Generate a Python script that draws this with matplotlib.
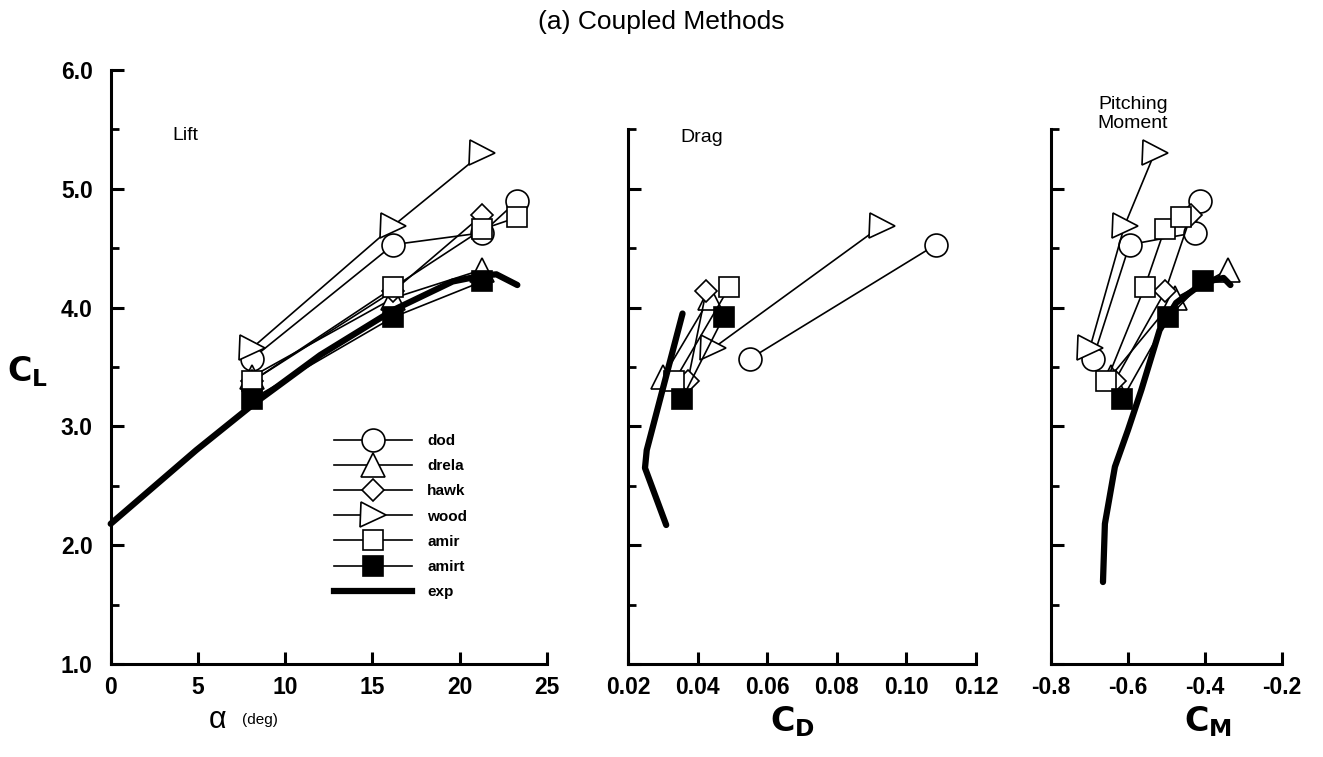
import numpy as np
import matplotlib
matplotlib.use("Agg")
import matplotlib.pyplot as plt
from matplotlib.lines import Line2D

plt.rcParams['font.family'] = ['Liberation Sans', 'DejaVu Sans']

nan = np.nan

# angle of attack (deg) for the computed cases
alpha3 = [8.1, 16.2, 21.3]
alpha4 = [8.1, 16.2, 21.3, 23.3]

# computed results per method: lift, drag, pitching moment
dod_cl = [3.57, 4.53, 4.63, 4.90]
dod_cd = [0.0550, 0.1085, nan, nan]
dod_cm = [-0.691, -0.596, -0.427, -0.414]

drela_cl = [3.42, 4.08, 4.32]
drela_cd = [0.0301, 0.0435, nan]
drela_cm = [-0.645, -0.477, -0.339]

hawk_cl = [3.38, 4.14, 4.78]
hawk_cd = [0.0371, 0.0424, nan]
hawk_cm = [-0.635, -0.503, -0.436]

wood_cl = [3.66, 4.69, 5.30]
wood_cd = [0.0445, 0.0929, nan]
wood_cm = [-0.699, -0.609, -0.531]

amir_cl = [3.38, 4.17, 4.66, 4.76]
amir_cd = [0.0332, 0.0490, nan, nan]
amir_cm = [-0.656, -0.557, -0.505, -0.462]

amirt_cl = [3.23, 3.92, 4.22]
amirt_cd = [0.0354, 0.0474, nan]
amirt_cm = [-0.615, -0.495, -0.404]

# experiment
exp_alpha = [0.0, 4.9, 8.2, 12.0, 16.2, 19.6, 21.3, 22.1, 23.3]
exp_cl = [2.18, 2.80, 3.19, 3.60, 3.98, 4.22, 4.27, 4.28, 4.19]
exp_cd = [0.0309, 0.0248, 0.0253, 0.0356]
exp_cl_d = [2.17, 2.65, 2.80, 3.95]
exp_cm = [-0.665, -0.660, -0.634, -0.600, -0.565, -0.518, -0.475, -0.404, -0.352, -0.334]
exp_cl_m = [1.69, 2.18, 2.66, 2.97, 3.31, 3.81, 4.04, 4.21, 4.25, 4.19]

methods = [
    ("dod", alpha4, dod_cl, dod_cd, dod_cm, dict(marker='o', ms=16.5, mfc='white')),
    ("drela", alpha3, drela_cl, drela_cd, drela_cm, dict(marker='^', ms=17, mfc='white')),
    ("hawk", alpha3, hawk_cl, hawk_cd, hawk_cm, dict(marker='D', ms=11.5, mfc='white')),
    ("wood", alpha3, wood_cl, wood_cd, wood_cm, dict(marker='>', ms=18, mfc='white')),
    ("amir", alpha4, amir_cl, amir_cd, amir_cm, dict(marker='s', ms=14.5, mfc='white')),
    ("amirt", alpha3, amirt_cl, amirt_cd, amirt_cm, dict(marker='s', ms=14.5, mfc='black')),
]

fig = plt.figure(figsize=(13.23, 7.57), dpi=100)
W, H = 1323.0, 757.0

def px_axes(x0, x1, y0, y1):
    # rectangle given in pixels from the top-left corner
    return fig.add_axes([x0 / W, 1 - y1 / H, (x1 - x0) / W, (y1 - y0) / H])

def fx(x):
    return x / W

def fy(y):
    return 1 - y / H

y_bot = 664.0
px_per_cl = 118.8
ax_l = px_axes(110.7, 547.0, 70.0, y_bot)
ax_d = px_axes(628.3, 976.0, y_bot - 4.5 * px_per_cl, y_bot)
ax_m = px_axes(1051.0, 1282.0, y_bot - 4.5 * px_per_cl, y_bot)

line_kw = dict(color='black', lw=1.2, mec='black', mew=1.2)
exp_kw = dict(color='black', lw=4.5, solid_capstyle='round', solid_joinstyle='round')

for name, al, cl, cd, cm, mk in methods:
    ax_l.plot(al, cl, **line_kw, **mk)
    ax_d.plot(cd, cl, **line_kw, **mk)
    ax_m.plot(cm, cl, **line_kw, **mk)

ax_l.plot(exp_alpha, exp_cl, **exp_kw)
ax_d.plot(exp_cd, exp_cl_d, **exp_kw)
ax_m.plot(exp_cm, exp_cl_m, **exp_kw)

tick_font = dict(fontsize=16.5, fontweight='bold')

for ax in (ax_l, ax_d, ax_m):
    for s in ('top', 'right'):
        ax.spines[s].set_visible(False)
    for s in ('left', 'bottom'):
        ax.spines[s].set_linewidth(2.2)
    ax.tick_params(which='major', direction='in', length=9, width=2.2)
    ax.tick_params(which='minor', direction='in', length=5.5, width=2.0)
    ax.tick_params(axis='x', pad=9)
    ax.tick_params(axis='y', pad=13)

ax_l.set_xlim(0, 25)
ax_l.set_ylim(1.0, 6.0)
ax_l.set_xticks([0, 5, 10, 15, 20, 25])
ax_l.set_xticklabels(['0', '5', '10', '15', '20', '25'], **tick_font)
ax_l.set_yticks([1.0, 2.0, 3.0, 4.0, 5.0, 6.0])
ax_l.set_yticks([1.5, 2.5, 3.5, 4.5, 5.5], minor=True)
ax_l.set_yticklabels(['1.0', '2.0', '3.0', '4.0', '5.0', '6.0'], **tick_font)

ax_d.set_xlim(0.02, 0.12)
ax_d.set_ylim(1.0, 5.5)
ax_d.set_xticks([0.02, 0.04, 0.06, 0.08, 0.10, 0.12])
ax_d.set_xticklabels(['0.02', '0.04', '0.06', '0.08', '0.10', '0.12'], **tick_font)
ax_d.set_yticks([1.0, 2.0, 3.0, 4.0, 5.0])
ax_d.set_yticks([1.5, 2.5, 3.5, 4.5, 5.5], minor=True)
ax_d.set_yticklabels([])

ax_m.set_xlim(-0.8, -0.2)
ax_m.set_ylim(1.0, 5.5)
ax_m.set_xticks([-0.8, -0.6, -0.4, -0.2])
ax_m.set_xticklabels(['-0.8', '-0.6', '-0.4', '-0.2'], **tick_font)
ax_m.set_yticks([1.0, 2.0, 3.0, 4.0, 5.0])
ax_m.set_yticks([1.5, 2.5, 3.5, 4.5, 5.5], minor=True)
ax_m.set_yticklabels([])

for ax in (ax_l, ax_d, ax_m):
    for sp in ax.spines.values():
        sp.set_clip_on(False)
    for ln in ax.lines:
        ln.set_clip_on(False)

# panel captions
fig.text(fx(172), fy(135), 'Lift', fontsize=14, ha='left', va='center')
fig.text(fx(680), fy(137), 'Drag', fontsize=14, ha='left', va='center')
fig.text(fx(1133), fy(114), 'Pitching\nMoment', fontsize=14,
         ha='center', va='center', linespacing=1.15)

# axis titles
fig.text(fx(28), fy(372), r'$\mathbf{C}_{\mathbf{L}}$', fontsize=24, ha='center', va='center')
fig.text(fx(218), fy(720), 'α', fontsize=22, ha='center', va='center')
fig.text(fx(260), fy(720), '(deg)', fontsize=11, ha='center', va='center')
fig.text(fx(792), fy(722), r'$\mathbf{C}_{\mathbf{D}}$', fontsize=24, ha='center', va='center')
fig.text(fx(1208), fy(722), r'$\mathbf{C}_{\mathbf{M}}$', fontsize=24, ha='center', va='center')
fig.text(0.5, fy(22), '(a) Coupled Methods', fontsize=19, ha='center', va='center')

# legend
handles = []
for name, al, cl, cd, cm, mk in methods:
    handles.append(Line2D([], [], label=name, **line_kw, **mk))
handles.append(Line2D([], [], label='exp', color='black', lw=4.5))
leg = ax_l.legend(handles=handles, loc='upper left', bbox_to_anchor=(0.512, 0.387),
                  frameon=False, handlelength=5.1, numpoints=1, labelspacing=0.73,
                  handletextpad=1.0, borderpad=0, borderaxespad=0,
                  prop=dict(size=11, weight='bold'))

fig.savefig('out.png', dpi=100)
